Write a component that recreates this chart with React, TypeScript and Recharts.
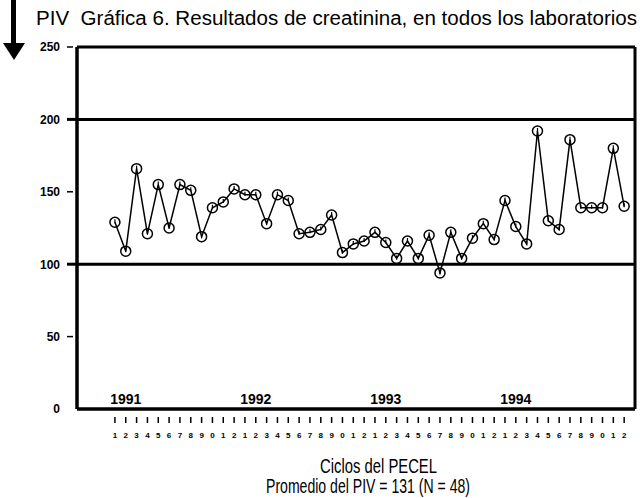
import React from 'react';
import { Line, LineChart, ReferenceDot, ReferenceLine, XAxis, YAxis } from 'recharts';

const FONT = '"Liberation Sans", Arial, Helvetica, sans-serif';

// creatinina del PIV por ciclo (12 ciclos por año)
const Y1991 = [129, 109, 166, 121, 155, 125, 155, 151, 119, 139, 143, 152];
const Y1992 = [148, 148, 128, 148, 144, 121, 122, 124, 134, 108, 114, 116];
const Y1993 = [122, 115, 104, 116, 104, 120, 94, 122, 104, 118, 128, 117];
const Y1994 = [144, 126, 114, 192, 130, 124, 186, 139, 139, 139, 180, 140];

const CYCLE_LABELS = ['1', '2', '3', '4', '5', '6', '7', '8', '9', '0', '1', '2'];
const YEARS = ['1991', '1992', '1993', '1994'];
const YEAR_AT = [1, 13, 25, 37];
const Y_TICKS = [0, 50, 100, 150, 200, 250];
const LIMITS = [100, 200];

const data = [Y1991, Y1992, Y1993, Y1994].flat().map((v, i) => ({ i, v }));
const xTicks = data.map((d) => d.i);

function XTick(props: any) {
  const { x, y, payload } = props;
  return (
    <g>
      <line x1={x} x2={x} y1={y + 8} y2={y + 14} stroke="#000" strokeWidth={1.5} />
      <text x={x} y={y + 29} textAnchor="middle" fontFamily={FONT} fontSize={8} fontWeight="bold" fill="#000">
        {CYCLE_LABELS[payload.value % 12]}
      </text>
    </g>
  );
}

function YTick(props: any) {
  const { x, y, payload } = props;
  const strong = LIMITS.includes(payload.value);
  return (
    <g>
      {payload.value > 0 && (
        <line
          x1={x - 10}
          x2={strong ? x : x - 4}
          y1={y}
          y2={y}
          stroke="#000"
          strokeWidth={strong ? 3 : 1.5}
        />
      )}
      <text x={x - 17} y={y} dy="0.36em" textAnchor="end" fontFamily={FONT} fontSize={12} fontWeight="bold" fill="#000">
        {payload.value}
      </text>
    </g>
  );
}

function Marker(props: any) {
  const { cx, cy } = props;
  if (cx == null || cy == null) return null;
  return (
    <g key={`m-${props.index}`}>
      <circle cx={cx} cy={cy} r={5} fill="none" stroke="#000" strokeWidth={1.5} />
      <line x1={cx} x2={cx} y1={cy - 3} y2={cy + 1} stroke="#000" strokeWidth={1.2} />
    </g>
  );
}

export default function App() {
  return (
    <div style={{ position: 'absolute', left: 0, top: 0, width: 640, height: 498, background: '#fff' }}>
      <LineChart width={640} height={498} data={data} margin={{ top: 47, right: 5, left: 0, bottom: 59 }}>
        <XAxis
          dataKey="i"
          type="number"
          height={30}
          domain={[-3.5, 48]}
          ticks={xTicks}
          interval={0}
          tick={<XTick />}
          tickLine={false}
          tickSize={0}
          tickMargin={0}
          axisLine={{ stroke: '#000', strokeWidth: 3.5 }}
          allowDataOverflow
        />
        <YAxis
          width={77}
          type="number"
          domain={[0, 250]}
          ticks={Y_TICKS}
          interval={0}
          tick={<YTick />}
          tickLine={false}
          tickSize={0}
          tickMargin={0}
          axisLine={{ stroke: '#000', strokeWidth: 3.5 }}
        />
        <ReferenceLine y={250} stroke="#000" strokeWidth={3} />
        <ReferenceLine x={48} stroke="#000" strokeWidth={3} />
        {LIMITS.map((l) => (
          <ReferenceLine key={l} y={l} stroke="#000" strokeWidth={3} />
        ))}
        {YEARS.map((yr, k) => (
          <ReferenceDot
            key={yr}
            x={YEAR_AT[k]}
            y={7}
            r={0}
            fill="none"
            stroke="none"
            label={{ value: yr, position: 'center', fill: '#000', fontSize: 14, fontWeight: 'bold', fontFamily: FONT }}
          />
        ))}
        <Line
          type="linear"
          dataKey="v"
          stroke="#000"
          strokeWidth={1.5}
          dot={<Marker />}
          activeDot={false}
          isAnimationActive={false}
        />
      </LineChart>
      <svg width={640} height={498} style={{ position: 'absolute', left: 0, top: 0, pointerEvents: 'none' }}>
        <rect x={11} y={0} width={5} height={45} fill="#000" />
        <polygon points="3,43 25,43 14,60" fill="#000" />
        <text x={36} y={25} fontFamily={FONT} fontSize={20} fill="#000" style={{ whiteSpace: 'pre' }} textLength={601} lengthAdjust="spacingAndGlyphs">
          {'PIV  Gráfica 6. Resultados de creatinina, en todos los laboratorios'}
        </text>
        <text x={320} y={473} fontFamily={FONT} fontSize={20} fill="#000" textLength={117} lengthAdjust="spacingAndGlyphs">
          Ciclos del PECEL
        </text>
        <text x={266} y={493} fontFamily={FONT} fontSize={20} fill="#000" textLength={204} lengthAdjust="spacingAndGlyphs">
          Promedio del PIV = 131 (N = 48)
        </text>
      </svg>
    </div>
  );
}
